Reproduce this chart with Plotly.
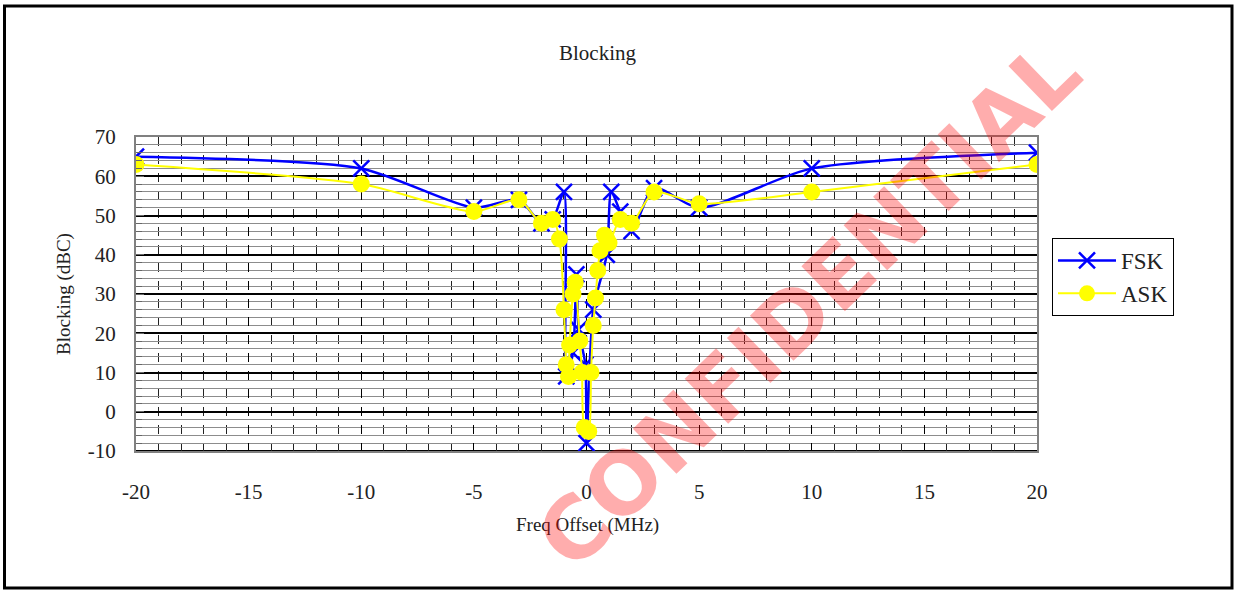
import plotly.graph_objects as go

# Blocking measurements vs. frequency offset
fsk_freq = [-20, -10, -5, -3, -2, -1.5, -1.0, -0.9, -0.6, -0.45, -0.35, -0.05, 0.0,
            0.3, 0.9, 1.1, 1.5, 2, 3, 5, 10, 20]
fsk_block = [65, 62, 52, 54, 48, 49, 56, 9, 15, 35, 21, 12, -8,
             26, 40, 56, 51, 46, 57, 52, 62, 66]

ask_freq = [-20, -10, -5, -3, -2, -1.5, -1.2, -1.0, -0.9, -0.8, -0.75, -0.6, -0.5,
            -0.3, -0.2, -0.1, 0.1, 0.2, 0.3, 0.4, 0.5, 0.6, 0.8, 0.9, 1.0,
            1.5, 2, 3, 5, 10, 20]
ask_block = [63, 58, 51, 54, 48, 49, 44, 26, 12, 9, 17, 30, 33,
             18, 10, -4, -5, 10, 22, 29, 36, 41, 45, 44, 43,
             49, 48, 56, 53, 56, 63]

x_ticks = [-20, -15, -10, -5, 0, 5, 10, 15, 20]
y_ticks = [-10, 0, 10, 20, 30, 40, 50, 60, 70]

SERIF = "Liberation Serif"
TEXT = "#222222"

# plot area in pixels: x 136..1037, y 137..451
PL, PR, PT, PB = 136, 1037, 137, 451


def px(xp):
    return (xp - PL) / (PR - PL)


def py(yp):
    return (PB - yp) / (PB - PT)


fig = go.Figure()
fig.add_trace(go.Scatter(
    x=fsk_freq, y=fsk_block, name="FSK", mode="lines+markers",
    line=dict(color="#0000FF", width=2.5, shape="spline", smoothing=0.7),
    marker=dict(symbol="x-thin", size=16, color="#0000FF",
                line=dict(color="#0000FF", width=2.5)),
))
fig.add_trace(go.Scatter(
    x=ask_freq, y=ask_block, name="ASK", mode="lines+markers",
    line=dict(color="#FFFF00", width=2, shape="spline", smoothing=0.7),
    marker=dict(symbol="circle", size=17, color="#FFFF00", line=dict(width=0)),
))

fig.update_layout(
    width=1235, height=590,
    margin=dict(l=PL, r=1235 - PR, t=PT, b=590 - PB),
    paper_bgcolor="white", plot_bgcolor="white",
    font=dict(family=SERIF, size=20, color=TEXT),
    showlegend=True,
    legend=dict(
        x=px(1052), y=py(238), xanchor="left", yanchor="top",
        bordercolor="black", borderwidth=1, bgcolor="white",
        font=dict(family=SERIF, size=23, color=TEXT),
        itemwidth=58, tracegroupgap=0,
    ),
    xaxis=dict(
        range=[-20, 20], tickmode="array", tickvals=x_ticks,
        ticktext=[str(v) for v in x_ticks],
        showgrid=True, gridcolor="black", gridwidth=1, griddash="dash",
        minor=dict(dtick=1, showgrid=True, gridcolor="#222222", gridwidth=1),
        showline=True, linecolor="#808080", linewidth=2, mirror=True,
        ticks="", ticklabelstandoff=21, zeroline=False,
        tickfont=dict(family=SERIF, size=21, color=TEXT),
    ),
    yaxis=dict(
        range=[-10, 70], tickmode="array", tickvals=y_ticks,
        ticktext=[str(v) for v in y_ticks],
        showgrid=True, gridcolor="black", gridwidth=2,
        minor=dict(dtick=2, showgrid=True, gridcolor="#8c8c8c", gridwidth=1,
                   ticks="inside", ticklen=6, tickcolor="#666666"),
        ticks="inside", ticklen=8, tickcolor="#666666",
        showline=True, linecolor="#808080", linewidth=2, mirror=True,
        ticklabelstandoff=14, zeroline=False,
        tickfont=dict(family=SERIF, size=21, color=TEXT),
    ),
)

# bottom edge of the plot area in black
fig.add_shape(type="line", xref="paper", yref="paper", x0=0, x1=1, y0=0, y1=0,
              line=dict(color="black", width=2), layer="between")

# outer chart border
fig.add_shape(type="rect", xref="paper", yref="paper",
              x0=px(4.5), x1=px(1232), y0=py(588), y1=py(6),
              line=dict(color="black", width=3), fillcolor="rgba(0,0,0,0)")


def label(text, x, y, size, angle=0):
    fig.add_annotation(text=text, xref="paper", yref="paper",
                       x=px(x), y=py(y), xanchor="center", yanchor="middle",
                       showarrow=False, textangle=angle,
                       font=dict(family=SERIF, size=size, color=TEXT))


label("Blocking", 597, 53, 21)
label("Freq Offset (MHz)", 587, 525, 19)
label("Blocking (dBC)", 64, 294, 19, angle=-90)

# watermark
fig.add_annotation(text="<b>CONFIDENTIAL</b>", xref="paper", yref="paper",
                   x=px(808), y=py(305), xanchor="center", yanchor="middle",
                   showarrow=False, textangle=-44,
                   font=dict(family="DejaVu Sans", size=86,
                             color="rgba(255,0,0,0.32)"))

fig.write_html("out.html")
